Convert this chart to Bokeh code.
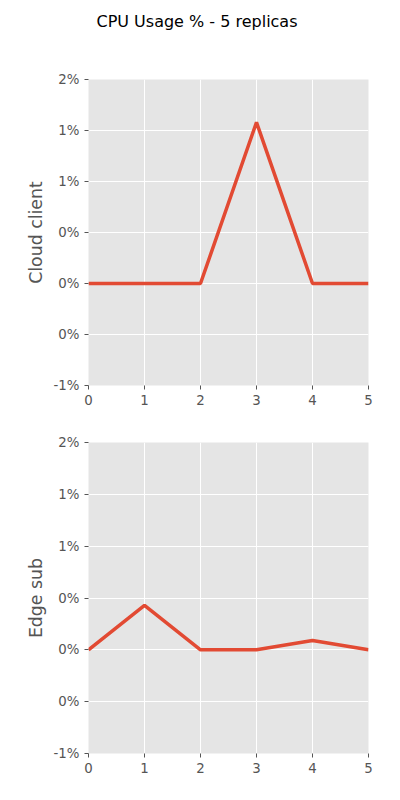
from bokeh.plotting import figure
from bokeh.layouts import column
from bokeh.models import Div, FixedTicker
from bokeh.embed import file_html
from bokeh.resources import INLINE

x = [0, 1, 2, 3, 4, 5]
cloud_client = [0.0, 0.0, 0.0, 1.58, 0.0, 0.0]
edge_sub = [0.0, 0.43, 0.0, 0.0, 0.09, 0.0]
y_ticks = [-1.0, -0.5, 0.0, 0.5, 1.0, 1.5, 2.0]
y_labels = ["-1%", "0%", "0%", "0%", "1%", "1%", "2%"]

title = Div(text="CPU Usage % - 5 replicas", width=384, height=36,
            styles={"text-align": "center", "font-family": "DejaVu Sans",
                    "font-size": "16px", "color": "black", "padding-top": "6px"})


def make_panel(ys, label, height, top):
    p = figure(width=384, height=height, x_range=(0, 5), y_range=(-1, 2),
               output_backend="svg", toolbar_location=None,
               min_border_left=88, min_border_right=16,
               min_border_top=top, min_border_bottom=25)
    p.background_fill_color = "#E5E5E5"
    p.outline_line_color = None
    p.grid.grid_line_color = "white"
    p.grid.grid_line_width = 1
    p.xaxis.ticker = FixedTicker(ticks=x)
    p.yaxis.ticker = FixedTicker(ticks=y_ticks)
    p.yaxis.major_label_overrides = dict(zip(y_ticks, y_labels))
    p.yaxis.axis_label = label
    for ax in p.axis:
        ax.axis_line_color = None
        ax.major_tick_line_color = "#555555"
        ax.major_tick_in = 0
        ax.major_tick_out = 4
        ax.minor_tick_line_color = None
        ax.major_label_text_color = "#555555"
        ax.major_label_text_font = "DejaVu Sans"
        ax.major_label_text_font_size = "10pt"
        ax.axis_label_text_color = "#555555"
        ax.axis_label_text_font = "DejaVu Sans"
        ax.axis_label_text_font_size = "13pt"
        ax.axis_label_text_font_style = "normal"
    p.line(x, ys, line_color="#E24A33", line_width=3.5)
    return p


p1 = make_panel(cloud_client, "Cloud client", 364, 33)
p2 = make_panel(edge_sub, "Edge sub", 368, 32)
p = column(title, p1, p2, spacing=0)

open("out.html", "w").write(file_html(p, INLINE))
